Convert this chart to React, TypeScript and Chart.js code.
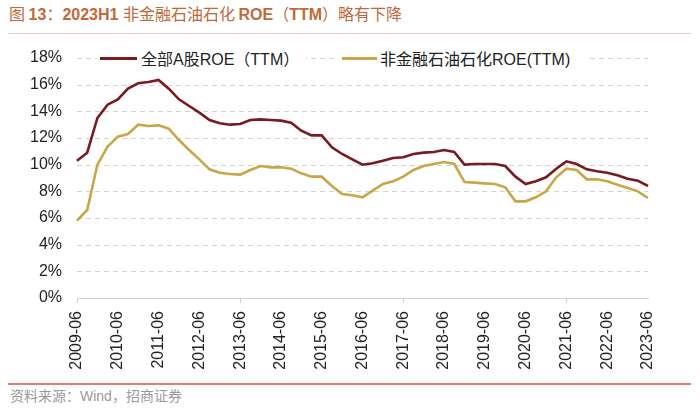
import React, { useEffect, useRef } from "react";
import { Chart, registerables } from "chart.js";

Chart.register(...registerables);

const quarters = [
  "2009-06", "2009-09", "2009-12", "2010-03",
  "2010-06", "2010-09", "2010-12", "2011-03",
  "2011-06", "2011-09", "2011-12", "2012-03",
  "2012-06", "2012-09", "2012-12", "2013-03",
  "2013-06", "2013-09", "2013-12", "2014-03",
  "2014-06", "2014-09", "2014-12", "2015-03",
  "2015-06", "2015-09", "2015-12", "2016-03",
  "2016-06", "2016-09", "2016-12", "2017-03",
  "2017-06", "2017-09", "2017-12", "2018-03",
  "2018-06", "2018-09", "2018-12", "2019-03",
  "2019-06", "2019-09", "2019-12", "2020-03",
  "2020-06", "2020-09", "2020-12", "2021-03",
  "2021-06", "2021-09", "2021-12", "2022-03",
  "2022-06", "2022-09", "2022-12", "2023-03",
  "2023-06",
];

const allAShareROE = [
  10.3, 10.9, 13.5, 14.5, 14.9, 15.7, 16.1, 16.2, 16.35,
  15.7, 14.9, 14.4, 13.9, 13.35, 13.1, 13.0, 13.05,
  13.35, 13.4, 13.35, 13.3, 13.15, 12.55, 12.2, 12.2,
  11.3, 10.8, 10.4, 10.0, 10.1, 10.3, 10.5, 10.55,
  10.8, 10.9, 10.95, 11.1, 10.95, 10.0, 10.05, 10.05,
  10.05, 9.9, 9.1, 8.55, 8.75, 9.05, 9.7, 10.25,
  10.05, 9.65, 9.5, 9.4, 9.2, 8.95, 8.8, 8.4,
];

const exFinPetroROE = [
  5.8, 6.6, 10.0, 11.35, 12.1, 12.3, 13.0, 12.9, 12.95,
  12.7, 11.85, 11.1, 10.4, 9.65, 9.4, 9.3, 9.25,
  9.6, 9.9, 9.8, 9.8, 9.7, 9.35, 9.1, 9.1,
  8.4, 7.8, 7.7, 7.55, 8.05, 8.55, 8.75, 9.1,
  9.6, 9.9, 10.05, 10.2, 10.05, 8.7, 8.65, 8.6,
  8.55, 8.3, 7.25, 7.25, 7.55, 8.0, 9.05, 9.7,
  9.6, 8.9, 8.9, 8.75, 8.5, 8.25, 8.0, 7.5,
];

const seriesNames = ["全部A股ROE（TTM）", "非金融石油石化ROE(TTM)"];
const seriesColors = ["#7B1A1E", "#C9A646"];

const FONT = '"Liberation Sans", Arial, "Noto Sans CJK SC", sans-serif';

const dashedGrid = {
  id: "dashedGrid",
  beforeDatasetsDraw(chart: any) {
    const { ctx, chartArea, scales } = chart;
    const y = scales.y;
    ctx.save();
    ctx.strokeStyle = "#d3d3d3";
    ctx.lineWidth = 1;
    ctx.setLineDash([5, 4]);
    y.ticks.forEach((t: any) => {
      if (t.value === 0) return;
      const py = Math.round(y.getPixelForValue(t.value)) + 0.5;
      ctx.beginPath();
      ctx.moveTo(chartArea.left, py);
      ctx.lineTo(chartArea.right, py);
      ctx.stroke();
    });
    ctx.restore();
  },
};

export default function App() {
  const ref = useRef<HTMLCanvasElement | null>(null);

  useEffect(() => {
    if (!ref.current) return;
    const isYear = (i: number) => quarters[i] && quarters[i].endsWith("-06");
    const chart = new Chart(ref.current, {
      type: "line",
      data: {
        labels: quarters,
        datasets: [
          {
            label: seriesNames[0],
            data: allAShareROE,
            borderColor: seriesColors[0],
            backgroundColor: seriesColors[0],
            borderWidth: 2.6,
            pointRadius: 0,
            tension: 0,
          },
          {
            label: seriesNames[1],
            data: exFinPetroROE,
            borderColor: seriesColors[1],
            backgroundColor: seriesColors[1],
            borderWidth: 2.6,
            pointRadius: 0,
            tension: 0,
          },
        ],
      },
      options: {
        responsive: false,
        animation: false,
        devicePixelRatio: 1,
        layout: { padding: { top: 58, right: 52, left: 0, bottom: 0 } },
        plugins: {
          legend: { display: false },
          tooltip: { enabled: false },
          title: { display: false },
        },
        scales: {
          x: {
            type: "category",
            offset: false,
            afterFit: (s: any) => {
              s.height = 82;
            },
            border: { display: true, color: "#d0d0d0", width: 1 },
            grid: {
              drawOnChartArea: false,
              drawTicks: true,
              tickLength: 5,
              tickColor: (ctx: any) => (isYear(ctx.index) ? "#d0d0d0" : "rgba(0,0,0,0)"),
            },
            ticks: {
              autoSkip: false,
              maxRotation: 90,
              minRotation: 90,
              padding: 8,
              color: "#222",
              font: { family: FONT, size: 16 },
              callback: (_v: any, i: number) => (isYear(i) ? quarters[i] : null),
            },
          },
          y: {
            min: 0,
            max: 18,
            afterFit: (s: any) => {
              s.width = 77;
            },
            border: { display: false },
            grid: { display: false, drawTicks: false },
            ticks: {
              stepSize: 2,
              padding: 15,
              color: "#222",
              font: { family: FONT, size: 16 },
              callback: (v: any) => v + "%",
            },
          },
        },
      },
      plugins: [dashedGrid],
    } as any);
    return () => chart.destroy();
  }, []);

  return (
    <div
      style={{
        position: "fixed",
        left: 0,
        top: 0,
        width: 700,
        height: 409,
        background: "#fff",
        overflow: "hidden",
        fontFamily: FONT,
      }}
    >
      <div
        style={{
          position: "absolute",
          left: 9,
          top: 3,
          fontSize: 16,
          color: "#C0693A",
          whiteSpace: "nowrap",
          lineHeight: "20px",
        }}
      >
        <span style={{ fontFamily: '"Noto Sans CJK SC", sans-serif' }}>图 </span>
        <span style={{ fontWeight: "bold" }}>13</span>
        <span style={{ fontFamily: '"Noto Sans CJK SC", sans-serif' }}>：</span>
        <span style={{ fontWeight: "bold" }}>2023H1 </span>
        <span style={{ fontFamily: '"Noto Sans CJK SC", sans-serif' }}>非金融石油石化 </span>
        <span style={{ fontWeight: "bold" }}>ROE</span>
        <span style={{ fontFamily: '"Noto Sans CJK SC", sans-serif' }}>（</span>
        <span style={{ fontWeight: "bold" }}>TTM</span>
        <span style={{ fontFamily: '"Noto Sans CJK SC", sans-serif' }}>）略有下降</span>
      </div>
      <div
        style={{
          position: "absolute",
          left: 8,
          top: 33,
          width: 683,
          height: 1,
          background: "#e6cbc4",
        }}
      />
      <canvas
        ref={ref}
        width={700}
        height={380}
        style={{ position: "absolute", left: 0, top: 0, width: 700, height: 380 }}
      />
      <div
        style={{
          position: "absolute",
          left: 97,
          top: 48,
          width: 209,
          height: 20,
          background: "#fff",
          display: "flex",
          alignItems: "center",
          fontSize: 16,
          color: "#222",
          whiteSpace: "nowrap",
        }}
      >
        <span style={{ display: "inline-block", marginLeft: 3, width: 37, height: 3, background: seriesColors[0] }} />
        <span style={{ marginLeft: 4 }}>{seriesNames[0]}</span>
      </div>
      <div
        style={{
          position: "absolute",
          left: 338,
          top: 48,
          width: 249,
          height: 20,
          background: "#fff",
          display: "flex",
          alignItems: "center",
          fontSize: 16,
          color: "#222",
          whiteSpace: "nowrap",
        }}
      >
        <span style={{ display: "inline-block", marginLeft: 4, width: 35, height: 3, background: seriesColors[1] }} />
        <span style={{ marginLeft: 3 }}>{seriesNames[1]}</span>
      </div>
      <div
        style={{
          position: "absolute",
          left: 8,
          top: 383,
          width: 683,
          height: 2,
          background: "#E07F6E",
        }}
      />
      <div
        style={{
          position: "absolute",
          left: 10,
          top: 387,
          fontSize: 14,
          color: "#9a9a9a",
          whiteSpace: "nowrap",
          lineHeight: "18px",
        }}
      >
        资料来源：Wind，招商证券
      </div>
    </div>
  );
}
